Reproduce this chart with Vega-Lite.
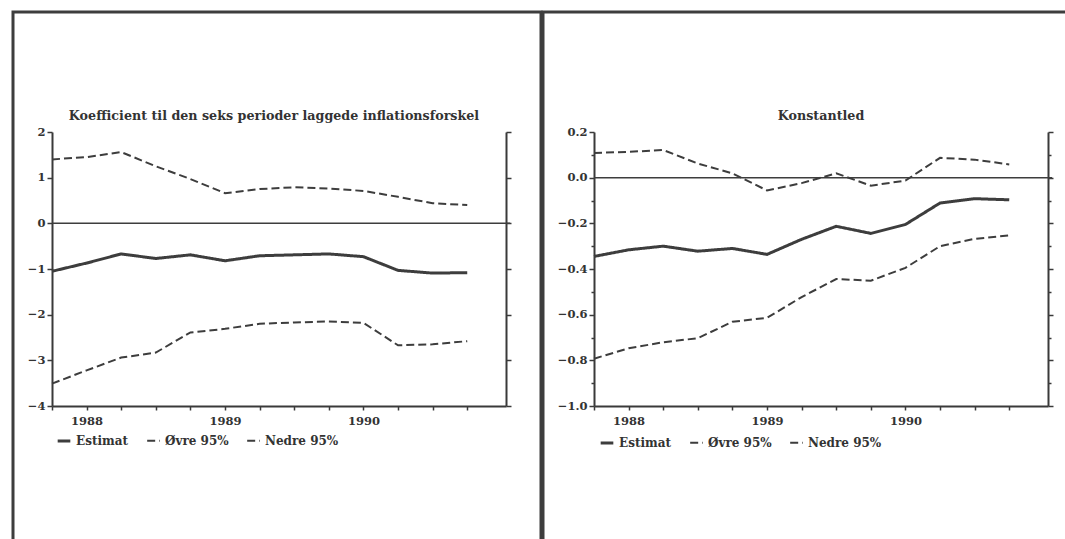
{
  "$schema": "https://vega.github.io/schema/vega-lite/v6.json",
  "background": "white",
  "padding": {"left": 11, "top": 10, "right": 0, "bottom": 0},
  "spacing": -3,
  "datasets": {
    "koef": [
      {"t": 1987.75, "serie": "Estimat", "v": -1.05},
      {"t": 1988.0, "serie": "Estimat", "v": -0.87},
      {"t": 1988.25, "serie": "Estimat", "v": -0.67},
      {"t": 1988.5, "serie": "Estimat", "v": -0.77},
      {"t": 1988.75, "serie": "Estimat", "v": -0.69},
      {"t": 1989.0, "serie": "Estimat", "v": -0.82},
      {"t": 1989.25, "serie": "Estimat", "v": -0.71},
      {"t": 1989.5, "serie": "Estimat", "v": -0.69},
      {"t": 1989.75, "serie": "Estimat", "v": -0.67},
      {"t": 1990.0, "serie": "Estimat", "v": -0.73},
      {"t": 1990.25, "serie": "Estimat", "v": -1.03},
      {"t": 1990.5, "serie": "Estimat", "v": -1.09},
      {"t": 1990.75, "serie": "Estimat", "v": -1.08},
      {"t": 1987.75, "serie": "Øvre 95%", "v": 1.40},
      {"t": 1988.0, "serie": "Øvre 95%", "v": 1.45},
      {"t": 1988.25, "serie": "Øvre 95%", "v": 1.56},
      {"t": 1988.5, "serie": "Øvre 95%", "v": 1.25},
      {"t": 1988.75, "serie": "Øvre 95%", "v": 0.97},
      {"t": 1989.0, "serie": "Øvre 95%", "v": 0.66},
      {"t": 1989.25, "serie": "Øvre 95%", "v": 0.75},
      {"t": 1989.5, "serie": "Øvre 95%", "v": 0.79},
      {"t": 1989.75, "serie": "Øvre 95%", "v": 0.76},
      {"t": 1990.0, "serie": "Øvre 95%", "v": 0.71},
      {"t": 1990.25, "serie": "Øvre 95%", "v": 0.58},
      {"t": 1990.5, "serie": "Øvre 95%", "v": 0.44},
      {"t": 1990.75, "serie": "Øvre 95%", "v": 0.40},
      {"t": 1987.75, "serie": "Nedre 95%", "v": -3.51},
      {"t": 1988.0, "serie": "Nedre 95%", "v": -3.22},
      {"t": 1988.25, "serie": "Nedre 95%", "v": -2.94},
      {"t": 1988.5, "serie": "Nedre 95%", "v": -2.83},
      {"t": 1988.75, "serie": "Nedre 95%", "v": -2.39},
      {"t": 1989.0, "serie": "Nedre 95%", "v": -2.31},
      {"t": 1989.25, "serie": "Nedre 95%", "v": -2.20},
      {"t": 1989.5, "serie": "Nedre 95%", "v": -2.17},
      {"t": 1989.75, "serie": "Nedre 95%", "v": -2.15},
      {"t": 1990.0, "serie": "Nedre 95%", "v": -2.18},
      {"t": 1990.25, "serie": "Nedre 95%", "v": -2.67},
      {"t": 1990.5, "serie": "Nedre 95%", "v": -2.65},
      {"t": 1990.75, "serie": "Nedre 95%", "v": -2.58}
    ],
    "konst": [
      {"t": 1987.75, "serie": "Estimat", "v": -0.345},
      {"t": 1988.0, "serie": "Estimat", "v": -0.316},
      {"t": 1988.25, "serie": "Estimat", "v": -0.300},
      {"t": 1988.5, "serie": "Estimat", "v": -0.322},
      {"t": 1988.75, "serie": "Estimat", "v": -0.310},
      {"t": 1989.0, "serie": "Estimat", "v": -0.336},
      {"t": 1989.25, "serie": "Estimat", "v": -0.270},
      {"t": 1989.5, "serie": "Estimat", "v": -0.213},
      {"t": 1989.75, "serie": "Estimat", "v": -0.244},
      {"t": 1990.0, "serie": "Estimat", "v": -0.205},
      {"t": 1990.25, "serie": "Estimat", "v": -0.111},
      {"t": 1990.5, "serie": "Estimat", "v": -0.092},
      {"t": 1990.75, "serie": "Estimat", "v": -0.097},
      {"t": 1987.75, "serie": "Øvre 95%", "v": 0.108},
      {"t": 1988.0, "serie": "Øvre 95%", "v": 0.113},
      {"t": 1988.25, "serie": "Øvre 95%", "v": 0.121},
      {"t": 1988.5, "serie": "Øvre 95%", "v": 0.062},
      {"t": 1988.75, "serie": "Øvre 95%", "v": 0.019},
      {"t": 1989.0, "serie": "Øvre 95%", "v": -0.056},
      {"t": 1989.25, "serie": "Øvre 95%", "v": -0.024},
      {"t": 1989.5, "serie": "Øvre 95%", "v": 0.019},
      {"t": 1989.75, "serie": "Øvre 95%", "v": -0.035},
      {"t": 1990.0, "serie": "Øvre 95%", "v": -0.013},
      {"t": 1990.25, "serie": "Øvre 95%", "v": 0.087},
      {"t": 1990.5, "serie": "Øvre 95%", "v": 0.079},
      {"t": 1990.75, "serie": "Øvre 95%", "v": 0.058},
      {"t": 1987.75, "serie": "Nedre 95%", "v": -0.793},
      {"t": 1988.0, "serie": "Nedre 95%", "v": -0.747},
      {"t": 1988.25, "serie": "Nedre 95%", "v": -0.721},
      {"t": 1988.5, "serie": "Nedre 95%", "v": -0.703},
      {"t": 1988.75, "serie": "Nedre 95%", "v": -0.631},
      {"t": 1989.0, "serie": "Nedre 95%", "v": -0.614},
      {"t": 1989.25, "serie": "Nedre 95%", "v": -0.523},
      {"t": 1989.5, "serie": "Nedre 95%", "v": -0.444},
      {"t": 1989.75, "serie": "Nedre 95%", "v": -0.451},
      {"t": 1990.0, "serie": "Nedre 95%", "v": -0.395},
      {"t": 1990.25, "serie": "Nedre 95%", "v": -0.300},
      {"t": 1990.5, "serie": "Nedre 95%", "v": -0.268},
      {"t": 1990.75, "serie": "Nedre 95%", "v": -0.253}
    ]
  },
  "hconcat": [
    {
      "width": 528,
      "height": 545,
      "title": {"text": "Koefficient til den seks perioder laggede inflationsforskel", "offset": -111, "dx": -3},
      "resolve": {"axis": {"y": "independent"}},
      "layer": [
        {
          "data": {"name": "koef"},
          "mark": {"type": "line", "color": "#3d3d3d"},
          "encoding": {
            "x": {
              "field": "t", "type": "quantitative",
              "scale": {"domain": [1987.75, 1991.03], "nice": false, "zero": false, "range": [39, 493]},
              "axis": {
                "title": null, "offset": -151,
                "values": [1987.75, 1988, 1988.25, 1988.5, 1988.75, 1989, 1989.25, 1989.5, 1989.75, 1990, 1990.25, 1990.5, 1990.75],
                "labelExpr": "datum.value % 1 === 0 ? format(datum.value, 'd') : ''",
                "tickSize": 4, "labelPadding": 5, "labelFlush": false, "labelOverlap": false
              }
            },
            "y": {
              "field": "v", "type": "quantitative",
              "scale": {"domain": [-4, 2], "nice": false, "zero": false, "range": [394, 120]},
              "axis": {"orient": "left", "offset": -39, "title": null, "values": [-4, -3, -2, -1, 0, 1, 2], "format": "d"}
            },
            "strokeDash": {
              "field": "serie", "type": "nominal",
              "scale": {"domain": ["Estimat", "Øvre 95%", "Nedre 95%"], "range": [[1, 0], [8, 4], [8, 4]]},
              "legend": {"title": null, "orient": "none", "legendX": 43, "legendY": 421}
            },
            "strokeWidth": {
              "field": "serie", "type": "nominal",
              "scale": {"type": "ordinal", "domain": ["Estimat", "Øvre 95%", "Nedre 95%"], "range": [3, 2, 2]},
              "legend": {"title": null, "orient": "none", "legendX": 43, "legendY": 421}
            }
          }
        },
        {
          "data": {"values": [{}]},
          "mark": {"type": "rule", "color": "#3d3d3d", "strokeWidth": 1.5},
          "encoding": {
            "x": {"datum": 1987.75, "type": "quantitative"},
            "x2": {"datum": 1991.06},
            "y": {
              "datum": 0, "type": "quantitative",
              "axis": {"orient": "right", "offset": -35, "title": null, "labels": false, "values": [-4, -3, -2, -1, 0, 1, 2]}
            }
          }
        }
      ]
    },
    {
      "width": 530,
      "height": 545,
      "title": {"text": "Konstantled", "offset": -111, "dx": 13},
      "resolve": {"axis": {"y": "independent"}},
      "layer": [
        {
          "data": {"name": "konst"},
          "mark": {"type": "line", "color": "#3d3d3d"},
          "encoding": {
            "x": {
              "field": "t", "type": "quantitative",
              "scale": {"domain": [1987.75, 1991.03], "nice": false, "zero": false, "range": [51, 505]},
              "axis": {
                "title": null, "offset": -151,
                "values": [1987.75, 1988, 1988.25, 1988.5, 1988.75, 1989, 1989.25, 1989.5, 1989.75, 1990, 1990.25, 1990.5, 1990.75],
                "labelExpr": "datum.value % 1 === 0 ? format(datum.value, 'd') : ''",
                "tickSize": 4, "labelPadding": 5, "labelFlush": false, "labelOverlap": false
              }
            },
            "y": {
              "field": "v", "type": "quantitative",
              "scale": {"domain": [-1.0, 0.2], "nice": false, "zero": false, "range": [394, 120]},
              "axis": {
                "orient": "left", "offset": -51, "title": null,
                "values": [-1.0, -0.9, -0.8, -0.7, -0.6, -0.5, -0.4, -0.3, -0.2, -0.1, 0.0, 0.1, 0.2],
                "labelExpr": "abs(round(datum.value * 10)) % 2 == 0 ? format(datum.value, '.1f') : ''",
                "labelOverlap": false, "labelFlush": false,
                "tickSize": {"condition": {"test": "abs(round(datum.value * 10)) % 2 == 0", "value": 5}, "value": 3}
              }
            },
            "strokeDash": {
              "field": "serie", "type": "nominal",
              "scale": {"domain": ["Estimat", "Øvre 95%", "Nedre 95%"], "range": [[1, 0], [8, 4], [8, 4]]},
              "legend": {"title": null, "orient": "none", "legendX": 56, "legendY": 423}
            },
            "strokeWidth": {
              "field": "serie", "type": "nominal",
              "scale": {"type": "ordinal", "domain": ["Estimat", "Øvre 95%", "Nedre 95%"], "range": [3, 2, 2]},
              "legend": {"title": null, "orient": "none", "legendX": 56, "legendY": 423}
            }
          }
        },
        {
          "data": {"values": [{}]},
          "mark": {"type": "rule", "color": "#3d3d3d", "strokeWidth": 1.5},
          "encoding": {
            "x": {"datum": 1987.75, "type": "quantitative"},
            "x2": {"datum": 1991.06},
            "y": {
              "datum": 0, "type": "quantitative",
              "axis": {
                "orient": "right", "offset": -25, "title": null, "labels": false,
                "values": [-1.0, -0.9, -0.8, -0.7, -0.6, -0.5, -0.4, -0.3, -0.2, -0.1, 0.0, 0.1, 0.2],
                "tickSize": {"condition": {"test": "abs(round(datum.value * 10)) % 2 == 0", "value": 5}, "value": 3}
              }
            }
          }
        }
      ]
    }
  ],
  "resolve": {
    "scale": {"strokeDash": "independent", "strokeWidth": "independent"},
    "legend": {"strokeDash": "independent", "strokeWidth": "independent"}
  },
  "config": {
    "view": {"stroke": "#3d3d3d", "strokeWidth": 3},
    "font": "DejaVu Serif",
    "title": {"font": "DejaVu Serif", "fontWeight": "bold", "fontSize": 12.7, "color": "#333333", "anchor": "middle"},
    "axis": {
      "grid": false,
      "domainColor": "#3a3a3a", "domainWidth": 2,
      "tickColor": "#3a3a3a", "tickWidth": 1.5, "tickSize": 5,
      "labelColor": "#333333", "labelFont": "DejaVu Serif", "labelFontWeight": "bold", "labelFontSize": 11.5, "labelPadding": 2
    },
    "legend": {
      "direction": "horizontal", "padding": 0,
      "labelFont": "DejaVu Serif", "labelFontWeight": "bold", "labelFontSize": 12, "labelColor": "#333333",
      "symbolType": "stroke", "symbolSize": 160, "symbolStrokeColor": "#3d3d3d",
      "columnPadding": 14, "labelOffset": 4
    }
  }
}
